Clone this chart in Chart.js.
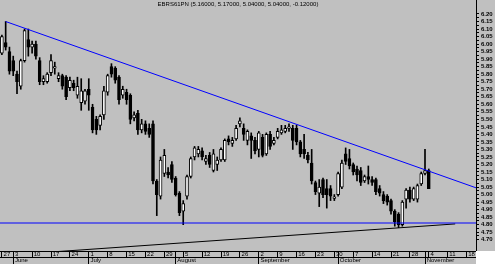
<!DOCTYPE html>
<html>
<head>
<meta charset="utf-8">
<script src="https://cdn.jsdelivr.net/npm/chart.js@4.4.1/dist/chart.umd.min.js"></script>
<style>
  html, body { margin: 0; padding: 0; background: #fff; }
  #wrap { position: relative; width: 495px; height: 264px; overflow: hidden; }
  #c { position: absolute; left: 0; top: 0; background: #c0c0c0; }
  #corner { position: absolute; left: 476px; top: 251px; width: 19px; height: 13px; background: #fff; }
  #title { position: absolute; left: 0; top: 1px; width: 476px; text-align: center;
           font: 6px "Liberation Sans", sans-serif; color: #000; white-space: nowrap; }
</style>
</head>
<body>
<div id="wrap">
  <canvas id="c" width="495" height="264"></canvas>
  <div id="corner"></div>
  <div id="title">EBRS61PN (5.16000, 5.17000, 5.04000, 5.04000, -0.12000)</div>
</div>
<script>
// trading days (2002), MM-DD
const days = [
  '05-27','05-28','05-29',
  '06-03','06-04','06-05','06-06','06-07','06-10','06-11','06-12','06-13','06-14',
  '06-17','06-18','06-19','06-20','06-21','06-24','06-25','06-26','06-27','06-28',
  '07-01','07-02','07-03','07-04','07-05','07-08','07-09','07-10','07-11','07-12',
  '07-15','07-16','07-17','07-18','07-19','07-22','07-23','07-24','07-25','07-26',
  '07-29','07-30','07-31',
  '08-01','08-02','08-05','08-06','08-07','08-08','08-09','08-12','08-13','08-14',
  '08-15','08-16','08-19','08-20','08-21','08-22','08-23','08-26','08-27','08-28',
  '08-29','08-30',
  '09-02','09-03','09-04','09-05','09-06','09-09','09-10','09-11','09-12','09-13',
  '09-16','09-17','09-18','09-19','09-20','09-23','09-24','09-25','09-26','09-27',
  '09-30',
  '10-01','10-02','10-03','10-04','10-07','10-08','10-09','10-10','10-11','10-14',
  '10-15','10-16','10-17','10-18','10-21','10-22','10-23','10-24','10-25','10-28',
  '10-29','10-30','10-31',
  '11-01','11-04','11-05','11-06','11-07','11-08','11-11','11-12','11-13','11-14',
  '11-15','11-18','11-19','11-20'
];

// weekly ticks (Mondays) and month starts for the date axis
const mondays = ['05-27','06-03','06-10','06-17','06-24','07-01','07-08','07-15','07-22','07-29',
  '08-05','08-12','08-19','08-26','09-02','09-09','09-16','09-23','09-30','10-07','10-14',
  '10-21','10-28','11-04','11-11','11-18'];
const monthStarts = ['06-03','07-01','08-01','09-02','10-01','11-01'];
const monthNames = ['June','July','August','September','October','November'];

// OHLC
const opens = [
  5.94,6.01,5.95,5.89,5.80,5.72,5.89,6.03,5.98,6.00,
  5.89,5.75,5.75,5.81,5.84,5.77,5.79,5.78,5.71,5.74,
  5.66,5.61,5.62,5.70,5.58,5.50,5.46,5.53,5.68,5.85,
  5.84,5.78,5.66,5.68,5.66,5.51,5.54,5.43,5.47,5.44,
  5.47,5.09,4.99,5.14,5.15,5.20,5.11,5.01,4.89,4.99,
  5.12,5.25,5.27,5.29,5.22,5.26,5.16,5.20,5.23,5.23,
  5.37,5.34,5.37,5.47,5.44,5.36,5.39,5.36,5.30,5.38,
  5.27,5.40,5.34,5.38,5.41,5.42,5.44,5.44,5.44,5.35,
  5.30,5.26,5.21,5.08,5.01,5.10,5.04,5.04,4.975,5.00,
  5.05,5.27,5.24,5.20,5.17,5.16,5.09,5.12,5.10,5.10,
  5.04,5.00,4.99,4.96,4.89,4.87,4.80,4.97,5.03,4.97,
  4.97,5.07,5.14,5.16
];
const highs = [
  6.06,6.15,5.98,5.92,5.82,5.90,6.10,6.10,6.02,6.02,
  5.91,5.79,5.81,5.93,5.88,5.81,5.80,5.79,5.78,5.76,
  5.78,5.77,5.70,5.77,5.60,5.52,5.53,5.72,5.80,5.87,
  5.85,5.79,5.72,5.70,5.67,5.55,5.56,5.50,5.49,5.47,
  5.49,5.10,5.25,5.30,5.18,5.22,5.12,5.02,4.96,5.13,
  5.25,5.32,5.32,5.31,5.26,5.28,5.30,5.25,5.31,5.37,
  5.39,5.38,5.46,5.51,5.47,5.43,5.41,5.38,5.42,5.40,
  5.41,5.42,5.38,5.44,5.46,5.46,5.47,5.46,5.46,5.36,
  5.40,5.28,5.30,5.09,5.10,5.11,5.10,5.06,5.00,5.15,
  5.23,5.31,5.30,5.21,5.19,5.18,5.13,5.19,5.12,5.11,
  5.06,5.02,5.00,4.97,4.90,4.88,4.96,5.04,5.05,5.05,
  5.07,5.15,5.30,5.17
];
const lows = [
  5.93,5.96,5.80,5.79,5.67,5.70,5.88,5.92,5.94,5.90,
  5.73,5.73,5.74,5.79,5.80,5.75,5.70,5.63,5.69,5.69,
  5.64,5.56,5.60,5.56,5.41,5.40,5.43,5.50,5.66,5.78,
  5.74,5.60,5.64,5.60,5.47,5.49,5.40,5.41,5.40,5.38,
  5.07,4.86,4.97,5.12,5.11,5.08,4.99,4.86,4.80,4.97,
  5.11,5.23,5.25,5.23,5.20,5.18,5.15,5.16,5.22,5.22,
  5.33,5.32,5.36,5.45,5.36,5.33,5.24,5.27,5.25,5.25,
  5.26,5.30,5.33,5.37,5.40,5.41,5.42,5.30,5.33,5.25,
  5.24,5.21,5.07,5.00,4.92,4.98,4.91,4.96,4.96,4.99,
  5.04,5.20,5.17,5.13,5.09,5.06,5.08,5.07,5.06,5.00,
  4.99,4.94,4.93,4.87,4.79,4.78,4.79,4.91,4.95,4.96,
  4.95,5.06,5.13,5.04
];
const closes = [
  6.05,5.98,5.82,5.82,5.75,5.89,6.09,5.98,6.00,5.92,
  5.75,5.77,5.80,5.89,5.85,5.79,5.72,5.65,5.76,5.71,
  5.72,5.69,5.69,5.66,5.43,5.43,5.52,5.69,5.79,5.80,
  5.76,5.63,5.70,5.63,5.50,5.53,5.43,5.47,5.42,5.40,
  5.09,5.00,5.23,5.26,5.13,5.10,5.00,4.88,4.94,5.12,
  5.24,5.31,5.30,5.25,5.24,5.20,5.27,5.23,5.30,5.36,
  5.35,5.36,5.44,5.49,5.40,5.42,5.36,5.29,5.41,5.26,
  5.40,5.32,5.36,5.42,5.43,5.44,5.45,5.36,5.35,5.27,
  5.27,5.23,5.09,5.02,5.05,5.00,5.00,4.99,4.985,5.14,
  5.21,5.22,5.19,5.15,5.13,5.08,5.12,5.10,5.08,5.02,
  5.01,4.96,4.95,4.89,4.82,4.80,4.95,5.03,4.97,5.04,
  5.06,5.14,5.16,5.04
];

// trend lines: [dayIndex, price]
const resistance = [[1, 6.15], [125.5, 5.045]];
const support = [[-0.5, 4.811], [125.5, 4.811]];
const rising = [[14, 4.62], [120, 4.805]];

// price axis
const yMajor = [4.70,4.75,4.80,4.85,4.90,4.95,5.00,5.05,5.10,5.15,5.20,5.25,5.30,5.35,5.40,
  5.45,5.50,5.55,5.60,5.65,5.70,5.75,5.80,5.85,5.90,5.95,6.00,6.05,6.10,6.15,6.20];

const bodies = opens.map((o, i) => [Math.min(o, closes[i]), Math.max(o, closes[i])]);
const wicks = lows.map((l, i) => [l, highs[i]]);
const bodyFill = opens.map((o, i) => closes[i] >= o ? '#ffffff' : '#000000');
const toPts = a => a.map(p => ({x: p[0], y: p[1]}));
const yTicks = yMajor.concat(yMajor.slice(0, -1).map(v => v + 0.025));

const tickFont = {family: 'Liberation Sans', size: 6};
const noPad = s => { s.paddingLeft = 0; s.paddingRight = 0; s.paddingTop = 0; s.paddingBottom = 0; };

new Chart(document.getElementById('c'), {
  type: 'bar',
  data: {
    labels: days,
    datasets: [
      {type: 'line', xAxisID: 'xl', data: toPts(resistance), borderColor: '#0000ff', borderWidth: 1, pointRadius: 0},
      {type: 'line', xAxisID: 'xl', data: toPts(support), borderColor: '#0000ff', borderWidth: 1, pointRadius: 0},
      {type: 'line', xAxisID: 'xl', data: toPts(rising), borderColor: '#000000', borderWidth: 1, pointRadius: 0},
      {data: bodies, backgroundColor: bodyFill, borderColor: '#000', borderWidth: 1,
       borderSkipped: false, barThickness: 3, grouped: false},
      {data: wicks, backgroundColor: '#000', barThickness: 1, grouped: false}
    ]
  },
  options: {
    responsive: false,
    animation: false,
    layout: {padding: 0},
    plugins: {legend: {display: false}, tooltip: {enabled: false}},
    scales: {
      x: {
        offset: true,
        grid: {
          offset: false, drawOnChartArea: false, tickLength: 6, tickColor: '#000',
          tickWidth: c => (mondays.includes(days[c.index]) || monthStarts.includes(days[c.index])) ? 1 : 0
        },
        border: {color: '#000', width: 1},
        ticks: {
          autoSkip: false, maxRotation: 0, minRotation: 0, align: 'start', padding: -6,
          color: '#000', font: tickFont,
          callback: (v, i) => mondays.includes(days[i]) ? ' ' + Number(days[i].slice(3)) : ''
        },
        afterFit: s => { s.height = 6; noPad(s); }
      },
      x2: {
        type: 'category', position: 'bottom', offset: true,
        grid: {
          offset: false, drawOnChartArea: false, tickLength: 7, tickColor: '#000',
          tickWidth: c => monthStarts.includes(days[c.index]) ? 1 : 0
        },
        border: {color: '#000', width: 1},
        ticks: {
          autoSkip: false, maxRotation: 0, minRotation: 0, align: 'start', padding: -7,
          color: '#000', font: tickFont,
          callback: (v, i) => {
            const k = monthStarts.indexOf(days[i]);
            return k >= 0 ? ' ' + monthNames[k] : '';
          }
        },
        afterFit: s => { s.height = 7; noPad(s); }
      },
      xl: {type: 'linear', display: false, offset: false, min: -0.5, max: days.length - 0.5},
      y: {
        position: 'right', min: 4.625, max: 6.293,
        afterBuildTicks: axis => { axis.ticks = yTicks.map(v => ({value: v})); },
        grid: {drawOnChartArea: false, tickLength: 3, tickColor: '#000'},
        border: {color: '#000', width: 1},
        ticks: {
          autoSkip: false, padding: 2, color: '#000',
          font: {family: 'Liberation Sans', size: 6, weight: 'bold'},
          callback: v => Math.round(v * 1000) % 50 === 0 ? v.toFixed(2) : ''
        },
        afterFit: s => { s.width = 19; noPad(s); }
      }
    }
  }
});
</script>
</body>
</html>
